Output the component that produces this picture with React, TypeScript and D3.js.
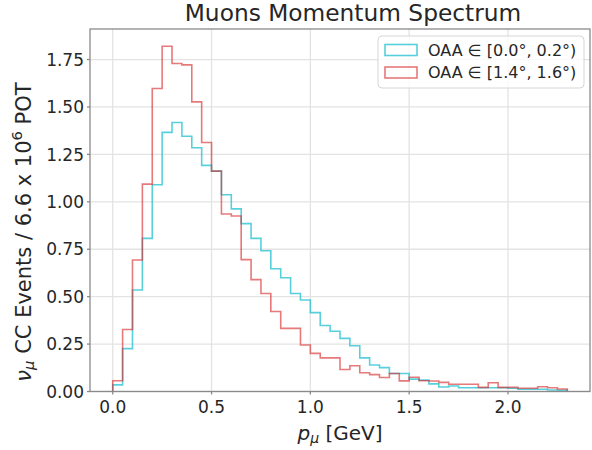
import React from "react";
import * as d3 from "d3";

const binEdges: number[] = Array.from({ length: 47 }, (_, i) => +(i * 0.05).toFixed(2));

const cyanLabel = "OAA \u2208 [0.0\u00b0, 0.2\u00b0)";
const redLabel = "OAA \u2208 [1.4\u00b0, 1.6\u00b0)";

const cyanValues: number[] = [
  0.035, 0.226, 0.535, 0.807, 1.09, 1.366, 1.418, 1.346, 1.285, 1.192,
  1.162, 1.037, 0.963, 0.885, 0.807, 0.742, 0.647, 0.6, 0.517, 0.482,
  0.416, 0.348, 0.318, 0.28, 0.241, 0.177, 0.14, 0.126, 0.095, 0.095,
  0.065, 0.06, 0.04, 0.024, 0.029, 0.02, 0.02, 0.02, 0.02, 0.02,
  0.017, 0.012, 0.012, 0.012, 0.008, 0.006,
];

const redValues: number[] = [
  0.057, 0.327, 0.693, 1.093, 1.597, 1.82, 1.729, 1.722, 1.527, 1.313,
  1.162, 0.936, 0.925, 0.695, 0.59, 0.517, 0.422, 0.333, 0.333, 0.245,
  0.201, 0.177, 0.177, 0.116, 0.136, 0.099, 0.089, 0.074, 0.095, 0.056,
  0.075, 0.057, 0.055, 0.048, 0.038, 0.038, 0.038, 0.022, 0.046, 0.022,
  0.022, 0.017, 0.017, 0.025, 0.02, 0.013,
];

const xTicks: number[] = [0.0, 0.5, 1.0, 1.5, 2.0];
const yTicks: number[] = [0, 0.25, 0.5, 0.75, 1.0, 1.25, 1.5, 1.75];

const W = 592;
const H = 450;
const M = { left: 90, right: 590, top: 29, bottom: 391.5 };
const FONT = "'DejaVu Sans', sans-serif";

export default function App() {
  const x0 = binEdges[0];
  const x1 = binEdges[binEdges.length - 1];
  const span = x1 - x0;
  const x = d3.scaleLinear().domain([x0 - 0.05 * span, x1 + 0.05 * span]).range([M.left, M.right]);
  const yMax = (d3.max([...cyanValues, ...redValues]) as number) * 1.05;
  const y = d3.scaleLinear().domain([0, yMax]).range([M.bottom, M.top]);

  const stepPath = (vals: number[]) => {
    const p = d3.path();
    p.moveTo(x(binEdges[0]), y(0));
    vals.forEach((v, i) => {
      p.lineTo(x(binEdges[i]), y(v));
      p.lineTo(x(binEdges[i + 1]), y(v));
    });
    p.lineTo(x(binEdges[vals.length]), y(0));
    return p.toString();
  };

  const cyan = "#17becf";
  const red = "#d62728";
  const tickColor = "#262626";
  const spineColor = "#8a8a8a";
  const gridColor = "#e3e3e3";

  const legX = 378;
  const legY = 36;
  const legW = 206;
  const legH = 52;

  return (
    <svg width={W} height={H} style={{ position: "absolute", left: 0, top: 0, background: "#fff" }} fontFamily={FONT}>
      <defs>
        <clipPath id="plotclip">
          <rect x={M.left} y={M.top} width={M.right - M.left} height={M.bottom - M.top} />
        </clipPath>
      </defs>
      {/* grid */}
      {xTicks.map((t) => (
        <line key={"gx" + t} x1={x(t)} x2={x(t)} y1={M.top} y2={M.bottom} stroke={gridColor} strokeWidth={1.3} />
      ))}
      {yTicks.map((t) => (
        <line key={"gy" + t} x1={M.left} x2={M.right} y1={y(t)} y2={y(t)} stroke={gridColor} strokeWidth={1.3} />
      ))}
      {/* histograms */}
      <g clipPath="url(#plotclip)">
        <path d={stepPath(cyanValues)} fill="none" stroke={cyan} strokeOpacity={0.72} strokeWidth={1.6} />
        <path d={stepPath(redValues)} fill="none" stroke={red} strokeOpacity={0.62} strokeWidth={1.6} />
      </g>
      {/* spines */}
      <rect x={M.left} y={M.top} width={M.right - M.left} height={M.bottom - M.top} fill="none" stroke={spineColor} strokeWidth={1.3} />
      {/* x ticks */}
      {xTicks.map((t) => (
        <g key={"xt" + t}>
          <line x1={x(t)} x2={x(t)} y1={M.bottom} y2={M.bottom + 3} stroke={spineColor} strokeWidth={1.3} />
          <text x={x(t)} y={413.3} textAnchor="middle" fontSize={17} fill={tickColor}>
            {t.toFixed(1)}
          </text>
        </g>
      ))}
      {/* y ticks */}
      {yTicks.map((t) => (
        <g key={"yt" + t}>
          <line x1={M.left - 3} x2={M.left} y1={y(t)} y2={y(t)} stroke={spineColor} strokeWidth={1.3} />
          <text x={84} y={y(t) + 6.2} textAnchor="end" fontSize={17} fill={tickColor}>
            {t.toFixed(2)}
          </text>
        </g>
      ))}
      {/* title */}
      <text x={353} y={21} textAnchor="middle" fontSize={23.3} fill={tickColor}>
        Muons Momentum Spectrum
      </text>
      {/* x label */}
      <text x={(M.left + M.right) / 2} y={440} textAnchor="middle" fontSize={20} fill={tickColor}>
        <tspan fontStyle="italic">p</tspan>
        <tspan fontStyle="italic" fontSize={14} dy={3}>{"\u03bc"}</tspan>
        <tspan dy={-3}>{" [GeV]"}</tspan>
      </text>
      {/* y label */}
      <text
        transform={`translate(30.5,232) rotate(-90)`}
        textAnchor="middle"
        fontSize={21}
        fill={tickColor}
      >
        <tspan fontStyle="italic">{"\u03bd"}</tspan>
        <tspan fontStyle="italic" fontSize={14.7} dy={3.2}>{"\u03bc"}</tspan>
        <tspan dy={-3.2}>{" CC Events / 6.6 x 10"}</tspan>
        <tspan fontSize={14.7} dy={-8.5}>6</tspan>
        <tspan dy={8.5}>{" POT"}</tspan>
      </text>
      {/* legend */}
      <rect x={legX} y={legY} width={legW} height={legH} rx={4} fill="#fff" fillOpacity={0.8} stroke="#d6d6d6" strokeWidth={1} />
      <rect x={legX + 7} y={legY + 8.5} width={32} height={11} fill="none" stroke={cyan} strokeOpacity={0.72} strokeWidth={1.6} />
      <text x={legX + 50} y={legY + 19.5} fontSize={16} fill={tickColor}>{cyanLabel}</text>
      <rect x={legX + 7} y={legY + 31} width={32} height={11} fill="none" stroke={red} strokeOpacity={0.62} strokeWidth={1.6} />
      <text x={legX + 50} y={legY + 42.3} fontSize={16} fill={tickColor}>{redLabel}</text>
    </svg>
  );
}
